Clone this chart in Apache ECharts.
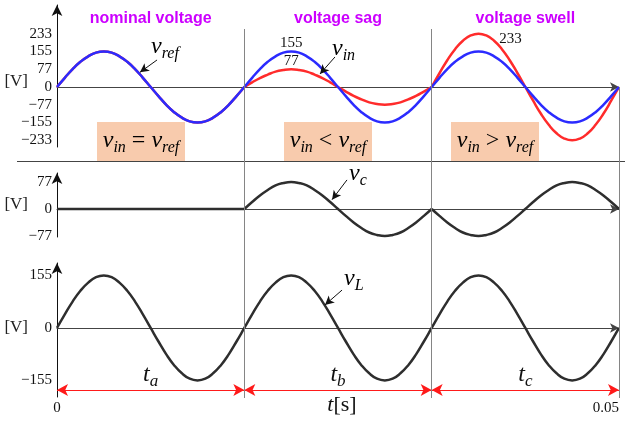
<!DOCTYPE html>
<html>
<head>
<meta charset="utf-8">
<script src="https://cdn.jsdelivr.net/npm/echarts@6/dist/echarts.min.js"></script>
<style>
  html, body { margin: 0; padding: 0; background: #ffffff; }
  #chart { width: 625px; height: 421px; }
</style>
</head>
<body>
<div id="chart"></div>
<script>
// Waveforms sampled every 15 degrees of a 60 Hz cycle: three cycles, 0 .. 0.05 s
const SAMPLE_STEP = 0.05 / 72;
const SAMPLES_PER_CYCLE = 24;
const segmentEdges = [0, 1 / 60, 2 / 60, 0.05];
const segmentTitles = ['nominal voltage', 'voltage sag', 'voltage swell'];
const segmentNames = ['a', 'b', 'c'];

// reference voltage v_ref [V]
const vRef = [
  0, 40, 78, 110, 134, 150, 155, 150, 134, 110, 78, 40, 0, -40, -78, -110, -134, -150, -155, -150, -134, -110, -78, -40,
  0, 40, 78, 110, 134, 150, 155, 150, 134, 110, 78, 40, 0, -40, -78, -110, -134, -150, -155, -150, -134, -110, -78, -40,
  0, 40, 78, 110, 134, 150, 155, 150, 134, 110, 78, 40, 0, -40, -78, -110, -134, -150, -155, -150, -134, -110, -78, -40,
  0
];
// supply voltage v_in [V]: nominal, sag, swell
const vIn = [
  0, 40, 78, 110, 134, 150, 155, 150, 134, 110, 78, 40, 0, -40, -78, -110, -134, -150, -155, -150, -134, -110, -78, -40,
  0, 20, 39, 54, 67, 74, 77, 74, 67, 54, 39, 20, 0, -20, -39, -54, -67, -74, -77, -74, -67, -54, -39, -20,
  0, 60, 117, 165, 202, 225, 233, 225, 202, 165, 117, 60, 0, -60, -117, -165, -202, -225, -233, -225, -202, -165, -117, -60,
  0
];
// compensating voltage v_c [V]
const vC = [
  0, 0, 0, 0, 0, 0, 0, 0, 0, 0, 0, 0, 0, 0, 0, 0, 0, 0, 0, 0, 0, 0, 0, 0,
  0, 20, 39, 55, 68, 75, 78, 75, 68, 55, 39, 20, 0, -20, -39, -55, -68, -75, -78, -75, -68, -55, -39, -20,
  0, -20, -39, -55, -68, -75, -78, -75, -68, -55, -39, -20, 0, 20, 39, 55, 68, 75, 78, 75, 68, 55, 39, 20,
  0
];
// load voltage v_L [V]
const vL = [
  0, 40, 78, 110, 134, 150, 155, 150, 134, 110, 78, 40, 0, -40, -78, -110, -134, -150, -155, -150, -134, -110, -78, -40,
  0, 40, 78, 110, 134, 150, 155, 150, 134, 110, 78, 40, 0, -40, -78, -110, -134, -150, -155, -150, -134, -110, -78, -40,
  0, 40, 78, 110, 134, 150, 155, 150, 134, 110, 78, 40, 0, -40, -78, -110, -134, -150, -155, -150, -134, -110, -78, -40,
  0
];

const topTicks = [-233, -155, -77, 0, 77, 155, 233];
const midTicks = [-77, 0, 77];
const botTicks = [-155, 0, 155];
const timeTicks = [0, 0.05];
const timeTickLabels = ['0', '0.05'];

// crests annotated with their value (sample index)
const sagRefPeak = 30;   // v_ref crest during the sag
const sagInPeak = 30;    // v_in crest during the sag
const swellInPeak = 54;  // v_in crest during the swell

const SERIF = 'Liberation Serif';
const BLUE = '#2b2bff';
const RED = '#ff2b2b';
const DARK = '#2e2e2e';
const PRECISION = 8;

function points(arr, from, to) {
  const out = [];
  for (let i = from; i <= to; i++) out.push([i * SAMPLE_STEP, arr[i]]);
  return out;
}
function segment(arr, k) {
  return points(arr, k * SAMPLES_PER_CYCLE, (k + 1) * SAMPLES_PER_CYCLE);
}
function minusSign(v) {
  return v < 0 ? '\u2212' + Math.abs(v) : String(v);
}

const italicRich = {
  v: { fontFamily: SERIF, fontStyle: 'italic', fontSize: 24, color: '#111', verticalAlign: 'bottom', padding: [0, 0, 3, 0] },
  s: { fontFamily: SERIF, fontStyle: 'italic', fontSize: 16, color: '#111', verticalAlign: 'bottom' },
  o: { fontFamily: SERIF, fontSize: 24, color: '#111', verticalAlign: 'bottom', padding: [0, 0, 3, 0] }
};

function yAxisFor(grid, min, max, ticks) {
  return {
    type: 'value', gridIndex: grid, min: min, max: max,
    axisLine: { show: true, onZero: false, symbol: ['none', 'arrow'], symbolSize: [8, 11], lineStyle: { color: '#111', width: 1 } },
    axisTick: { show: false },
    splitLine: { show: false },
    axisLabel: {
      show: true, customValues: ticks, formatter: minusSign, margin: 5,
      fontFamily: SERIF, fontSize: 15, color: '#111'
    }
  };
}
function xAxisFor(grid) {
  return {
    type: 'value', gridIndex: grid, min: 0, max: 0.05,
    axisLine: { show: true, onZero: true, symbol: ['none', 'arrow'], symbolSize: [7, 9], lineStyle: { color: '#444', width: 1 } },
    axisTick: { show: false }, axisLabel: { show: false }, splitLine: { show: false }
  };
}

const arrowLine = { color: '#111', width: 1, type: 'solid' };
function pointer(from, to) {
  return [{ coord: from, lineStyle: arrowLine }, { coord: to }];
}
function pointerMark(from, to) {
  return {
    silent: true, precision: PRECISION, symbol: ['none', 'arrow'], symbolSize: [7, 9],
    label: { show: false }, data: [pointer(from, to)]
  };
}

const series = [];
// v_in, drawn per interval so the transitions keep their corners
for (let k = 0; k < 3; k++) {
  series.push({
    type: 'line', xAxisIndex: 0, yAxisIndex: 0, data: segment(vIn, k), smooth: true,
    showSymbol: false, lineStyle: { color: RED, width: 2.5 }, z: 3,
    markPoint: k === 0 ? undefined : {
      symbol: 'circle', symbolSize: 0,
      data: [k === 1
        ? { coord: [sagInPeak * SAMPLE_STEP, vIn[sagInPeak]], value: vIn[sagInPeak],
            label: { position: 'top', distance: 1 } }
        : { coord: [swellInPeak * SAMPLE_STEP, vIn[swellInPeak]], value: vIn[swellInPeak],
            label: { position: 'inside', offset: [32, 5] } }],
      label: { show: true, formatter: '{c}', fontFamily: SERIF, fontSize: 15, color: '#111' }
    },
    markLine: k === 1 ? pointerMark([0.02473, 131], [0.0234, 57]) : undefined
  });
}
// v_ref
series.push({
  type: 'line', xAxisIndex: 0, yAxisIndex: 0, data: points(vRef, 0, vRef.length - 1), smooth: true,
  showSymbol: false, lineStyle: { color: BLUE, width: 2.5 }, z: 4,
  markPoint: {
    symbol: 'circle', symbolSize: 0,
    data: [{ coord: [sagRefPeak * SAMPLE_STEP, vRef[sagRefPeak]], value: vRef[sagRefPeak] }],
    label: { show: true, position: 'top', distance: 1, formatter: '{c}', fontFamily: SERIF, fontSize: 15, color: '#111' }
  },
  markLine: pointerMark([0.0089, 118], [0.00738, 64])
});
// v_c
for (let k = 0; k < 3; k++) {
  series.push({
    type: 'line', xAxisIndex: 1, yAxisIndex: 1, data: segment(vC, k), smooth: true,
    showSymbol: false, lineStyle: { color: DARK, width: 2.5 }, z: 3,
    markLine: k === 1 ? pointerMark([0.0258, 84], [0.02447, 27]) : undefined
  });
}
// v_L
series.push({
  type: 'line', xAxisIndex: 2, yAxisIndex: 2, data: points(vL, 0, vL.length - 1), smooth: true,
  showSymbol: false, lineStyle: { color: DARK, width: 2.5 }, z: 3,
  markLine: pointerMark([0.02536, 112], [0.02384, 68])
});
// interval arrows t_a, t_b, t_c
series.push({
  type: 'line', xAxisIndex: 2, yAxisIndex: 2, data: [],
  markLine: {
    silent: true, precision: PRECISION, symbol: ['arrow', 'arrow'], symbolSize: [9, 11],
    lineStyle: { color: '#ff1a1a', width: 1, type: 'solid' },
    label: {
      show: true, position: 'middle', distance: 0,
      rich: {
        t: { fontFamily: SERIF, fontStyle: 'italic', fontSize: 24, color: '#111', verticalAlign: 'bottom', padding: [0, 0, 3, 0] },
        s: { fontFamily: SERIF, fontStyle: 'italic', fontSize: 17, color: '#111', verticalAlign: 'bottom' }
      }
    },
    data: segmentNames.map((n, k) => [
      { coord: [segmentEdges[k], -183], label: { formatter: '{t|t}{s|' + n + '}' } },
      { coord: [segmentEdges[k + 1], -183] }
    ])
  }
});
// interval boundaries and time axis
series.push({
  type: 'line', xAxisIndex: 3, yAxisIndex: 3, data: [],
  markLine: {
    silent: true, precision: PRECISION, symbol: 'none', label: { show: false },
    lineStyle: { color: '#858585', width: 1, type: 'solid' },
    data: [
      { xAxis: segmentEdges[1] }, { xAxis: segmentEdges[2] },
      [{ coord: [segmentEdges[3], 0.843] }, { coord: [segmentEdges[3], 0] }]
    ]
  }
});

const gridBase = { left: 57, right: 6, outerBoundsMode: 'none', containLabel: false };
const option = {
  animation: false,
  backgroundColor: '#ffffff',
  grid: [
    Object.assign({ top: 5, height: 142 }, gridBase),
    Object.assign({ top: 173, height: 64 }, gridBase),
    Object.assign({ top: 263, height: 134 }, gridBase),
    Object.assign({ top: 29, bottom: 23 }, gridBase)
  ],
  xAxis: [
    xAxisFor(0), xAxisFor(1), xAxisFor(2),
    {
      type: 'value', gridIndex: 3, min: 0, max: 0.05,
      axisLine: { show: false }, axisTick: { show: false }, splitLine: { show: false },
      axisLabel: {
        show: true, customValues: timeTicks, margin: 3, alignMaxLabel: 'right',
        formatter: (v) => timeTickLabels[timeTicks.indexOf(v)],
        fontFamily: SERIF, fontSize: 15, color: '#111'
      }
    }
  ],
  yAxis: [
    yAxisFor(0, -262, 358, topTicks),
    yAxisFor(1, -81, 104, midTicks),
    yAxisFor(2, -204, 192, botTicks),
    { type: 'value', gridIndex: 3, min: 0, max: 1, show: false }
  ],
  series: series
};

const chart = echarts.init(document.getElementById('chart'), null, { renderer: 'canvas' });
chart.setOption(option);

// titles over each interval, condition boxes, unit labels, curve names, panel separator
const graphics = [];
segmentTitles.forEach((title, k) => {
  const mid = (segmentEdges[k] + segmentEdges[k + 1]) / 2;
  const x = chart.convertToPixel({ gridIndex: 0 }, [mid, 0])[0];
  graphics.push({
    type: 'text', x: x, y: 19,
    style: { text: title, align: 'center', verticalAlign: 'middle', fill: '#cc00ff',
      font: 'bold 16px "Liberation Sans", Arial, sans-serif' }
  });
});
// "[V]" unit beside each panel's voltage axis, placed relative to its zero line
[[0, -5], [1, -4], [2, 0]].forEach(([g, dy]) => {
  const y = chart.convertToPixel({ gridIndex: g }, [0, 0])[1] + dy;
  graphics.push({
    type: 'text', x: 28, y: y,
    style: { text: '[V]', align: 'right', verticalAlign: 'middle', fill: '#222',
      font: '17px "Liberation Serif", serif' }
  });
});
// time axis title, centred under the time span
{
  const xMid = chart.convertToPixel({ gridIndex: 3 }, [0.05 / 2, 0])[0];
  graphics.push({
    type: 'text', x: xMid + 4, y: 405,
    style: {
      text: '{t|t}[s]', align: 'center', verticalAlign: 'middle', fill: '#111',
      font: '22px "Liberation Serif", serif',
      rich: { t: { fontFamily: SERIF, fontStyle: 'italic', fontSize: 22, color: '#111' } }
    }
  });
}
const boxTexts = ['{v|v}{s|in}{o| = }{v|v}{s|ref}', '{v|v}{s|in}{o| < }{v|v}{s|ref}', '{v|v}{s|in}{o| > }{v|v}{s|ref}'];
const boxLeft = [97, 284, 451];
boxTexts.forEach((t, k) => {
  graphics.push({
    type: 'rect', shape: { x: boxLeft[k], y: 122, width: 88, height: 39 },
    style: { fill: '#f8cbad' }, z: 1
  });
  graphics.push({
    type: 'text', x: boxLeft[k] + 44, y: 142, z: 2,
    style: { text: t, rich: italicRich, align: 'center', verticalAlign: 'middle' }
  });
});
[
  ['{v|v}{s|ref}', 151, 48],
  ['{v|v}{s|in}', 332, 50],
  ['{v|v}{s|c}', 349, 175],
  ['{v|v}{s|L}', 344, 280]
].forEach(([t, x, y]) => {
  graphics.push({
    type: 'text', x: x, y: y, z: 5,
    style: { text: t, rich: italicRich, align: 'left', verticalAlign: 'middle' }
  });
});
graphics.push({
  type: 'line', shape: { x1: 17, y1: 161.5, x2: 625, y2: 161.5 },
  style: { stroke: '#444', lineWidth: 1 }, z: 2
});
chart.setOption({ graphic: graphics });
</script>
</body>
</html>
